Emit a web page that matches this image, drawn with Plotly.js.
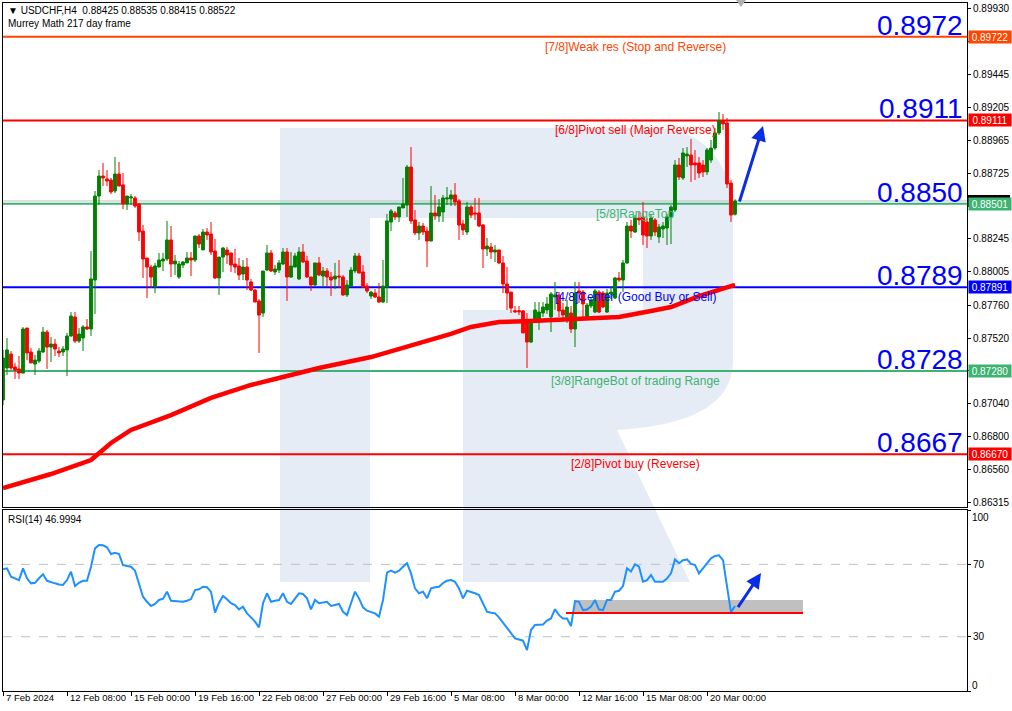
<!DOCTYPE html>
<html>
<head>
<meta charset="utf-8">
<script src="https://cdn.plot.ly/plotly-3.0.1.min.js"></script>
<style>html,body{margin:0;padding:0;background:#fff;}#chart{width:1012px;height:711px;}</style>
</head>
<body>
<div id="chart"></div>
<script>
// ---------------- DATA ----------------
const symbol = 'USDCHF,H4';
const frameText = 'Murrey Math 217 day frame';
const rsiPeriod = 14;
const rsiLast = 46.9994;

const tickIdx = [0,16,32,48,64,80,96,112,128,144,160,176];
const tickLabels = ['7 Feb 2024','12 Feb 08:00','15 Feb 00:00','19 Feb 16:00','22 Feb 08:00','27 Feb 00:00','29 Feb 16:00','5 Mar 08:00','8 Mar 00:00','12 Mar 16:00','15 Mar 08:00','20 Mar 00:00'];

const priceTicks = [0.86315,0.86560,0.86800,0.87040,0.87280,0.87520,0.87760,0.88005,0.88245,0.88485,0.88725,0.88965,0.89205,0.89445,0.89690,0.89930];
const hiddenTicks = [0.87280,0.88485,0.89690]; // covered by level tags

const open = [0.87067,0.87301,0.87403,0.87308,0.87294,0.87264,0.87593,0.87418,0.87330,0.87352,
0.87418,0.87564,0.87454,0.87476,0.87425,0.87418,0.87433,0.87535,0.87674,0.87498,
0.87520,0.87601,0.87586,0.87944,0.88558,0.88704,0.88683,0.88675,0.88595,0.88719,
0.88639,0.88500,0.88544,0.88544,0.88500,0.88302,0.88105,0.88039,0.87893,0.88039,
0.88083,0.88098,0.88237,0.88061,0.87966,0.88054,0.88069,0.88105,0.88090,0.88266,
0.88164,0.88295,0.88281,0.88156,0.87959,0.88112,0.88164,0.88142,0.88061,0.88047,
0.87988,0.88039,0.87930,0.87871,0.87791,0.87703,0.88017,0.88142,0.88003,0.88017,
0.88061,0.88149,0.87966,0.88039,0.87952,0.88149,0.88083,0.87966,0.87908,0.88069,
0.87973,0.88010,0.87966,0.87952,0.87973,0.87966,0.87835,0.87900,0.88010,0.88120,
0.88003,0.87900,0.87827,0.87849,0.87820,0.87783,0.87893,0.88368,0.88434,0.88405,
0.88471,0.88492,0.88770,0.88383,0.88288,0.88339,0.88302,0.88229,0.88434,0.88412,
0.88441,0.88536,0.88536,0.88566,0.88522,0.88354,0.88295,0.88478,0.88434,0.88434,
0.88346,0.88171,0.88185,0.88149,0.88164,0.88069,0.87915,0.87856,0.87720,0.87720,
0.87718,0.87652,0.87491,0.87652,0.87637,0.87703,0.87725,0.87674,0.87820,0.87835,
0.87725,0.87674,0.87703,0.87586,0.87864,0.87856,0.87674,0.87754,0.87710,0.87856,
0.87849,0.87710,0.87842,0.87813,0.87959,0.87944,0.88069,0.88339,0.88295,0.88397,
0.88405,0.88368,0.88266,0.88383,0.88259,0.88317,0.88324,0.88405,0.88456,0.88785,
0.88690,0.88851,0.88858,0.88800,0.88800,0.88785,0.88734,0.88821,0.88909,0.89019,
0.89107,0.89092,0.88653,0.88425];

const high = [0.87433,0.87520,0.87425,0.87338,0.87389,0.87601,0.87593,0.87447,0.87396,0.87447,
0.87601,0.87579,0.87528,0.87513,0.87454,0.87462,0.87557,0.87710,0.87710,0.87593,
0.87615,0.87659,0.88156,0.88595,0.88748,0.88800,0.88748,0.88690,0.88843,0.88807,
0.88726,0.88558,0.88573,0.88558,0.88507,0.88346,0.88105,0.88054,0.88069,0.88142,
0.88142,0.88376,0.88339,0.88127,0.88083,0.88083,0.88149,0.88149,0.88266,0.88281,
0.88317,0.88324,0.88368,0.88244,0.88112,0.88185,0.88185,0.88142,0.88171,0.88105,
0.88090,0.88105,0.87952,0.87878,0.87805,0.88010,0.88200,0.88164,0.88054,0.88090,
0.88178,0.88178,0.88149,0.88142,0.88185,0.88207,0.88120,0.87966,0.88069,0.88112,
0.88039,0.88032,0.88003,0.88069,0.88090,0.87981,0.87944,0.88039,0.88142,0.88142,
0.88054,0.87922,0.87864,0.87878,0.87922,0.88090,0.88427,0.88463,0.88449,0.88478,
0.88690,0.88785,0.88916,0.88456,0.88368,0.88361,0.88332,0.88631,0.88566,0.88536,
0.88566,0.88624,0.88602,0.88653,0.88536,0.88383,0.88514,0.88492,0.88544,0.88544,
0.88354,0.88251,0.88215,0.88200,0.88164,0.88120,0.88039,0.87856,0.87754,0.87754,
0.87725,0.87703,0.87659,0.87783,0.87783,0.87783,0.87820,0.87856,0.87930,0.87856,
0.87776,0.87798,0.87754,0.87930,0.87930,0.87871,0.87776,0.87820,0.87878,0.87871,
0.87864,0.87878,0.87893,0.87966,0.88003,0.88090,0.88368,0.88383,0.88419,0.88441,
0.88514,0.88397,0.88419,0.88397,0.88354,0.88368,0.88427,0.88492,0.88821,0.88836,
0.88909,0.88916,0.88975,0.88895,0.88843,0.88821,0.88909,0.88968,0.89055,0.89172,
0.89158,0.89128,0.88675,0.88535];

const low = [0.87030,0.87250,0.87286,0.87221,0.87221,0.87264,0.87359,0.87338,0.87250,0.87338,
0.87411,0.87294,0.87345,0.87389,0.87381,0.87389,0.87242,0.87528,0.87484,0.87484,
0.87425,0.87579,0.87535,0.87696,0.88492,0.88631,0.88631,0.88573,0.88580,0.88631,
0.88463,0.88456,0.88492,0.88471,0.88229,0.87959,0.87813,0.87886,0.87849,0.88039,
0.88010,0.88083,0.87966,0.87981,0.87952,0.88032,0.88069,0.87973,0.88076,0.88178,
0.88164,0.88237,0.88127,0.87952,0.87835,0.88003,0.88061,0.88003,0.87995,0.87944,
0.87944,0.87871,0.87864,0.87783,0.87411,0.87674,0.88010,0.88003,0.87981,0.87995,
0.88054,0.87791,0.87959,0.88039,0.87944,0.88069,0.87959,0.87864,0.87900,0.87973,
0.87893,0.87893,0.87827,0.87878,0.87886,0.87827,0.87820,0.87900,0.87995,0.87995,
0.87886,0.87849,0.87805,0.87813,0.87776,0.87776,0.87776,0.88302,0.88383,0.88368,
0.88471,0.88405,0.88354,0.88273,0.88237,0.88273,0.88039,0.88229,0.88383,0.88368,
0.88368,0.88492,0.88485,0.88485,0.88237,0.88273,0.88273,0.88397,0.88383,0.88332,
0.88032,0.88120,0.88098,0.88076,0.88061,0.87849,0.87725,0.87703,0.87703,0.87688,
0.87557,0.87301,0.87484,0.87637,0.87579,0.87674,0.87696,0.87564,0.87725,0.87674,
0.87666,0.87630,0.87557,0.87454,0.87776,0.87666,0.87666,0.87739,0.87703,0.87703,
0.87739,0.87703,0.87805,0.87805,0.87930,0.87856,0.88061,0.88251,0.88288,0.88346,
0.88200,0.88178,0.88237,0.88266,0.88215,0.88251,0.88200,0.88207,0.88441,0.88675,
0.88675,0.88770,0.88661,0.88675,0.88690,0.88697,0.88712,0.88800,0.88895,0.89004,
0.89041,0.88617,0.88368,0.88415];

const close = [0.87374,0.87433,0.87301,0.87286,0.87264,0.87586,0.87411,0.87338,0.87359,0.87425,
0.87564,0.87454,0.87476,0.87440,0.87411,0.87440,0.87535,0.87681,0.87498,0.87550,
0.87601,0.87586,0.87952,0.88558,0.88704,0.88690,0.88668,0.88588,0.88719,0.88631,
0.88500,0.88558,0.88551,0.88485,0.88295,0.88098,0.88039,0.87966,0.88047,0.88090,
0.88098,0.88237,0.88061,0.88083,0.88061,0.88076,0.88105,0.88090,0.88266,0.88207,
0.88295,0.88273,0.88149,0.87959,0.88112,0.88178,0.88127,0.88054,0.88039,0.87981,
0.88039,0.87944,0.87871,0.87783,0.87688,0.88010,0.88142,0.88010,0.88025,0.88069,
0.88149,0.87966,0.88047,0.88120,0.88149,0.88076,0.87966,0.87908,0.88069,0.87981,
0.88010,0.87966,0.87944,0.87973,0.87966,0.87835,0.87908,0.88017,0.88120,0.87995,
0.87893,0.87864,0.87856,0.87820,0.87783,0.87900,0.88376,0.88449,0.88405,0.88478,
0.88500,0.88770,0.88376,0.88288,0.88339,0.88295,0.88229,0.88434,0.88412,0.88478,
0.88544,0.88544,0.88566,0.88514,0.88346,0.88310,0.88478,0.88419,0.88427,0.88339,
0.88171,0.88193,0.88149,0.88164,0.88069,0.87915,0.87849,0.87739,0.87712,0.87712,
0.87557,0.87491,0.87652,0.87725,0.87710,0.87747,0.87769,0.87842,0.87835,0.87718,
0.87688,0.87747,0.87586,0.87849,0.87849,0.87769,0.87761,0.87798,0.87864,0.87710,
0.87747,0.87849,0.87856,0.87959,0.87944,0.88069,0.88339,0.88302,0.88397,0.88383,
0.88273,0.88266,0.88397,0.88295,0.88332,0.88339,0.88405,0.88478,0.88785,0.88697,
0.88873,0.88865,0.88785,0.88785,0.88726,0.88734,0.88895,0.88909,0.89019,0.89107,
0.89085,0.88646,0.88419,0.88522];

// moving average (red thick line) read at sample bars
const maIdx = [0,12,22,27,32,42,52,62,69,79,92,102,112,117,124,132,139,149,154,162,167,174,183];
const maVal = [0.86424,0.86526,0.86628,0.86753,0.86848,0.86957,0.87082,0.87177,0.87228,0.87301,0.87381,0.87462,0.87550,0.87601,0.87637,0.87644,0.87652,0.87666,0.87674,0.87718,0.87747,0.87827,0.87908];

const rsi = [67.2,67.8,63.2,62.3,61.3,67.8,62.3,59.5,59.8,62.3,
64.5,60.9,60.4,59.5,58.9,58.6,61.3,65.9,58.0,59.8,
60.9,60.9,68.7,78.8,80.7,80.5,79.4,75.7,76.4,75.7,
69.6,69.1,68.7,66.5,58.6,52.1,49.3,47.0,48.1,50.3,
51.0,54.9,49.9,49.7,49.9,49.3,49.9,50.8,55.8,56.2,
57.6,57.3,54.9,43.3,48.8,52.5,50.7,48.5,47.5,45.1,
46.6,42.9,40.7,38.3,35.2,48.5,54.0,49.3,49.9,50.3,
54.0,49.3,48.1,51.2,54.0,53.6,51.2,45.1,50.3,48.5,
48.8,49.3,47.0,47.5,48.1,43.8,42.0,48.5,54.9,51.2,
46.2,44.4,43.8,42.9,41.1,50.3,65.4,66.5,65.4,66.5,
68.7,70.6,65.0,56.7,54.0,54.9,51.2,56.7,57.3,57.6,
59.7,60.9,61.3,60.4,56.7,51.2,55.4,54.9,54.0,53.0,
48.1,43.8,43.2,42.9,40.7,37.8,34.6,31.5,29.1,28.5,
27.8,22.6,33.7,36.5,36.7,36.8,38.9,40.1,45.2,41.9,
40.1,40.1,35.9,49.7,49.3,44.7,45.0,46.6,50.3,45.0,
44.7,50.3,50.3,54.9,55.4,58.0,67.8,66.0,70.0,68.7,
60.4,61.3,64.1,60.4,60.4,60.4,62.2,65.0,72.7,70.6,
72.3,72.7,70.2,69.6,65.0,67.8,70.2,73.3,74.6,75.0,
72.3,57.0,43.5,46.9994];

const rsiLevels = [30, 70];
const rsiTicks = [0, 30, 70, 100];

// Murrey Math levels
const mmLevels = [0.89722, 0.89111, 0.88501, 0.87891, 0.87280, 0.86670];
const mmBig = ['0.8972','0.8911','0.8850','0.8789','0.8728','0.8667'];
const mmText = ['[7/8]Weak res (Stop and Reverse)','[6/8]Pivot sell (Major Reverse)','[5/8]RangeTop','[4/8]Center (Good Buy or Sell)','[3/8]RangeBot of trading Range','[2/8]Pivot buy (Reverse)'];
const mmColor = ['#ff4500','#ff0000','#3cb371','#0000ff','#3cb371','#ff0000'];
const bidPrice = 0.88522;

// forecast marks
const arrowMain = {x0:184, y0:0.88507, x1:190, y1:0.89070};
const arrowRsi = {x0:183.5, y0:45.5, x1:189.5, y1:65.2};
const rsiZone = {x0:142.75, x1:200, y0:43.1, y1:50.3};
const rsiSupport = {x0:140.75, x1:200, y:43.1};
const shiftMarkBar = 184.5;

// ---------------- LAYOUT HELPERS ----------------
const W = 1012, H = 711, ML = 3, MR = 45, MT = 3, MB = 20;
const PW = W - ML - MR, PH = H - MT - MB;
const px = v => (v - ML) / PW;           // pixel -> paper x
const py = v => (H - MB - v) / PH;       // pixel -> paper y
const N = open.length;
const xs = Array.from({length:N}, (_, i) => i);
const FAM = '"Liberation Sans", Arial, "DejaVu Sans", sans-serif';
const fontSmall = {family:FAM, size:10, color:'#000'};
const fontTime = {family:FAM, size:9.5, color:'#000'};

const traces = [
  {
    type:'candlestick', x:xs, open:open, high:high, low:low, close:close,
    xaxis:'x', yaxis:'y',
    increasing:{line:{color:'#008000', width:1}, fillcolor:'#008000'},
    decreasing:{line:{color:'#ff0000', width:1}, fillcolor:'#ff0000'},
    hoverinfo:'skip', showlegend:false
  },
  {
    type:'scatter', mode:'lines', x:maIdx, y:maVal, xaxis:'x', yaxis:'y',
    line:{color:'#ff0000', width:4.5}, hoverinfo:'skip', showlegend:false
  },
  {
    type:'scatter', mode:'lines', x:xs, y:rsi, xaxis:'x2', yaxis:'y2',
    line:{color:'#1e90ff', width:2}, hoverinfo:'skip', showlegend:false
  }
];

const shapes = [];
// watermark logo
const P = (x, y) => px(x) + ',' + py(y);
const wmPath = 'M ' + P(280,128) + ' L ' + P(655,128) +
  ' C ' + P(700,128) + ' ' + P(733,160) + ' ' + P(733,215) +
  ' L ' + P(733,360) +
  ' C ' + P(733,400) + ' ' + P(700,425) + ' ' + P(617,430) +
  ' L ' + P(690,582) + ' L ' + P(463,582) + ' L ' + P(463,310) + ' L ' + P(643,310) +
  ' L ' + P(643,218) + ' L ' + P(370,218) + ' L ' + P(370,582) + ' L ' + P(280,582) + ' Z';
shapes.push({type:'path', xref:'paper', yref:'paper', path:wmPath, fillcolor:'#e6ecf5', line:{width:0}, layer:'below'});

// chart shift marker (small grey triangle at top)
shapes.push({type:'path', xref:'paper', yref:'paper',
  path:'M ' + px(3 + 4*shiftMarkBar - 5) + ',' + py(0) + ' L ' + px(3 + 4*shiftMarkBar + 5) + ',' + py(0) + ' L ' + px(3 + 4*shiftMarkBar) + ',' + py(7) + ' Z',
  fillcolor:'#b0b0b0', line:{width:0}});

// RSI dashed levels
rsiLevels.forEach(v => shapes.push({type:'line', xref:'x2', yref:'y2', x0:0, x1:241, y0:v, y1:v, line:{color:'#c0c0c0', width:1, dash:'dash'}, layer:'below'}));
// RSI zone box + support line
shapes.push({type:'rect', xref:'x2', yref:'y2', x0:rsiZone.x0, x1:rsiZone.x1, y0:rsiZone.y0, y1:rsiZone.y1, fillcolor:'#c0c0c0', line:{width:0}, layer:'below'});
shapes.push({type:'line', xref:'x2', yref:'y2', x0:rsiSupport.x0, x1:rsiSupport.x1, y0:rsiSupport.y, y1:rsiSupport.y, line:{color:'#ff0000', width:2}});

// bid line
shapes.push({type:'line', xref:'x', yref:'y', x0:0, x1:241, y0:bidPrice, y1:bidPrice, line:{color:'#c0c0c0', width:1}, layer:'below'});
// bid tag (mostly hidden under the 5/8 tag)
const tagH = 6 / 13681;
shapes.push({type:'rect', xref:'paper', yref:'y', x0:px(968), x1:px(1010), y0:bidPrice - tagH, y1:bidPrice + tagH, fillcolor:'#000', line:{width:0}});
// Murrey lines
mmLevels.forEach((v, i) => shapes.push({type:'line', xref:'x', yref:'y', x0:0, x1:241, y0:v, y1:v, line:{color:mmColor[i], width:2}, layer:'below'}));

const annotations = [];
annotations.push({xref:'paper', yref:'paper', x:px(6), y:py(10), xanchor:'left', yanchor:'middle', showarrow:false,
  text:'▼ ' + symbol + '  ' + [open[N-1], high[N-1], low[N-1], close[N-1]].map(v => v.toFixed(5)).join(' '), font:fontSmall});
annotations.push({xref:'paper', yref:'paper', x:px(6), y:py(23), xanchor:'left', yanchor:'middle', showarrow:false, text:frameText, font:fontSmall});
annotations.push({xref:'paper', yref:'paper', x:px(6), y:py(519), xanchor:'left', yanchor:'middle', showarrow:false, text:'RSI(' + rsiPeriod + ') ' + rsiLast.toFixed(4), font:fontSmall});

// time labels, left-aligned just right of their ticks like the terminal draws them
tickIdx.forEach((t, i) => annotations.push({xref:'x2', yref:'paper', x:t, y:py(698), xanchor:'left', yanchor:'middle', xshift:1,
  showarrow:false, text:tickLabels[i], font:fontTime}));
// RSI scale labels 100 and 0 are drawn inside the panel edges
annotations.push({xref:'paper', yref:'paper', x:px(970), y:py(517), xanchor:'left', yanchor:'middle', showarrow:false, text:String(rsiTicks[3]), font:fontSmall});
annotations.push({xref:'paper', yref:'paper', x:px(970), y:py(685), xanchor:'left', yanchor:'middle', showarrow:false, text:String(rsiTicks[0]), font:fontSmall});

mmLevels.forEach((v, i) => {
  annotations.push({xref:'paper', yref:'y', x:px(965), y:v, xanchor:'right', yanchor:'bottom', yshift:-6, showarrow:false,
    text:mmBig[i], font:{family:FAM, size:28, color:'#0000ff'}});
  annotations.push({xref:'x', yref:'y', x:158, y:v, xanchor:'center', yanchor:'top', yshift:-1, showarrow:false,
    text:mmText[i], font:{family:FAM, size:12, color:mmColor[i]}});
});
mmLevels.forEach((v, i) => {
  annotations.push({xref:'paper', yref:'y', x:px(968), y:v, xanchor:'left', yanchor:'middle', showarrow:false,
    text:v.toFixed(5), bgcolor:mmColor[i], width:42, height:12, borderpad:0, font:{family:FAM, size:10, color:'#ffffff'}});
});
// forecast arrows
annotations.push({xref:'x', yref:'y', axref:'x', ayref:'y', x:arrowMain.x1, y:arrowMain.y1, ax:arrowMain.x0, ay:arrowMain.y0,
  showarrow:true, arrowhead:2, arrowsize:1, arrowwidth:3, arrowcolor:'#0a2de6', text:''});
annotations.push({xref:'x2', yref:'y2', axref:'x2', ayref:'y2', x:arrowRsi.x1, y:arrowRsi.y1, ax:arrowRsi.x0, ay:arrowRsi.y0,
  showarrow:true, arrowhead:2, arrowsize:1, arrowwidth:3, arrowcolor:'#0a2de6', text:''});

const layout = {
  width:W, height:H,
  margin:{l:ML, r:MR, t:MT, b:MB, pad:0},
  paper_bgcolor:'#ffffff', plot_bgcolor:'#ffffff',
  showlegend:false, hovermode:false,
  boxgap:0.3, boxgroupgap:0,
  font:fontSmall,
  xaxis:{domain:[0,1], anchor:'y', range:[0,241], showticklabels:false, ticks:'', showline:true, mirror:true,
    linecolor:'#000', linewidth:1, showgrid:false, zeroline:false, rangeslider:{visible:false}, fixedrange:true},
  yaxis:{domain:[py(507),1], anchor:'x', side:'right', range:[0.86285,0.89969], tickvals:priceTicks,
    ticktext:priceTicks.map(v => hiddenTicks.includes(v) ? '' : v.toFixed(5)), ticks:'outside', ticklen:3, tickcolor:'#000',
    showline:true, mirror:true, linecolor:'#000', linewidth:1, showgrid:false, zeroline:false, tickfont:fontSmall, fixedrange:true},
  xaxis2:{domain:[0,1], anchor:'y2', range:[0,241], tickvals:tickIdx, showticklabels:false, ticks:'outside', ticklen:4,
    tickcolor:'#000', showline:true, mirror:true, linecolor:'#000', linewidth:1, showgrid:false, zeroline:false, fixedrange:true},
  yaxis2:{domain:[0,py(509.5)], anchor:'x2', side:'right', range:[0,100.3], tickvals:rsiTicks,
    ticktext:rsiTicks.map(v => (v === 0 || v === 100) ? '' : String(v)), ticks:'outside', ticklen:3, tickcolor:'#000',
    showline:true, mirror:true, linecolor:'#000', linewidth:1, showgrid:false, zeroline:false, tickfont:fontSmall, fixedrange:true},
  shapes:shapes,
  annotations:annotations
};

Plotly.newPlot('chart', traces, layout, {staticPlot:true, displayModeBar:false});
</script>
</body>
</html>
